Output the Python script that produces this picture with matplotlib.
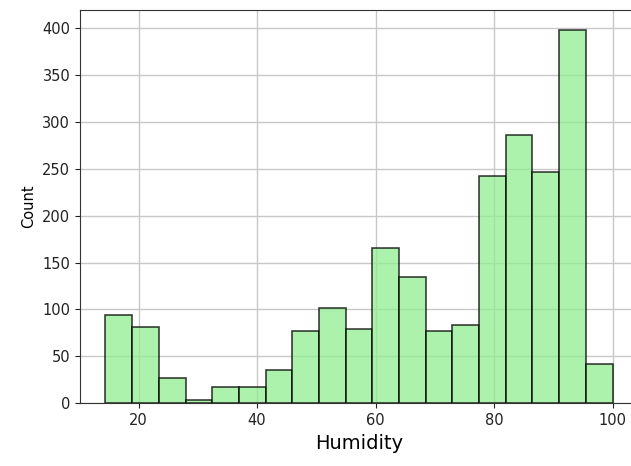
import numpy as np
import matplotlib
matplotlib.use("Agg")
import matplotlib.pyplot as plt

# Histogram of humidity: 19 bins between ~14.4 and 100
bin_start = 14.4
bin_end = 100.0
counts = [94, 81, 27, 3, 17, 17, 36, 77, 102, 79, 165, 135, 77, 83, 242, 286, 246, 398, 42]

edges = np.linspace(bin_start, bin_end, len(counts) + 1)

fig = plt.figure(figsize=(6.31, 4.66), dpi=100)
ax = fig.add_axes([80 / 631, 1 - 403.3 / 466, 558 / 631, 393.3 / 466])

ax.set_axisbelow(True)
ax.hist(edges[:-1], bins=edges, weights=counts, color="lightgreen", alpha=0.75,
        edgecolor="black", linewidth=1.2)

ax.set_xlim(10.1, 104.3)
ax.set_ylim(0, 419)
ax.set_yticks(np.arange(0, 401, 50))
ax.set_xticks([20, 40, 60, 80, 100])
ax.grid(True, color="#c8c8c8", linewidth=1)
ax.tick_params(labelsize=10.5, colors="#222222")
ax.set_xlabel("Humidity", fontsize=14)
ax.set_ylabel("Count", fontsize=10.5)
for s in ax.spines.values():
    s.set_color("#333333")

fig.savefig("out.png", dpi=100)
